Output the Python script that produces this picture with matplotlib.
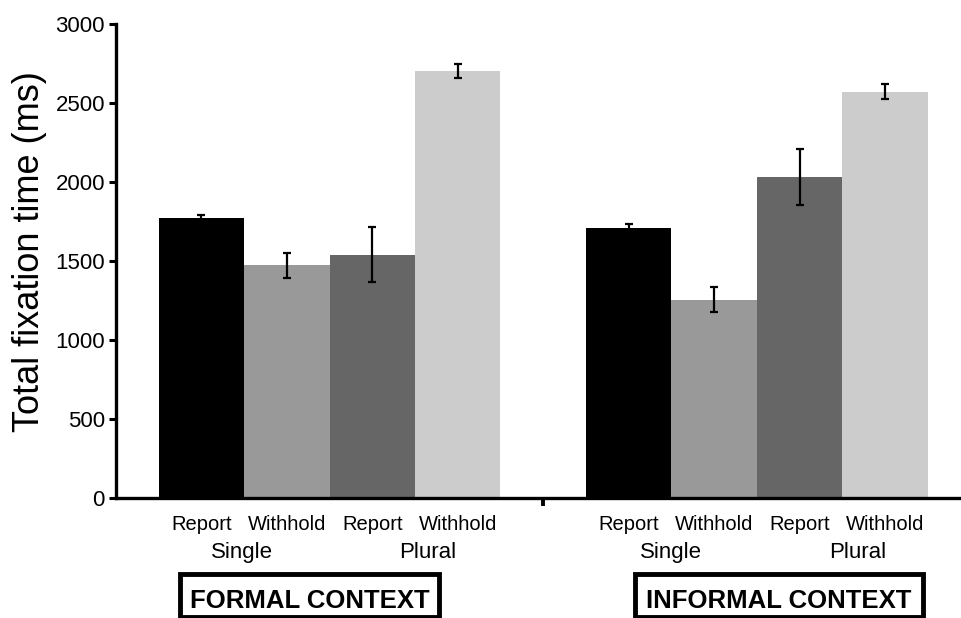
import matplotlib
matplotlib.use("Agg")
import matplotlib.pyplot as plt
import matplotlib.transforms as mtransforms
from matplotlib.patches import Rectangle

plt.rcParams['font.family'] = ['Liberation Sans', 'DejaVu Sans']

# data
conditions = ["Report", "Withhold", "Report", "Withhold"]
number_labels = ["Single", "Plural"]
contexts = ["FORMAL CONTEXT", "INFORMAL CONTEXT"]
formal_means = [1770, 1473, 1540, 2703]
formal_err = [22, 78, 173, 46]
informal_means = [1711, 1256, 2032, 2571]
informal_err = [22, 78, 175, 47]
bar_colors = ["#000000", "#999999", "#666666", "#cccccc"]

fig = plt.figure(figsize=(9.61, 6.18), dpi=100)
ax = fig.add_axes([0.1207, 0.1942, 0.8793, 0.767])

group_starts = [0, 5]
all_means = [formal_means, informal_means]
all_err = [formal_err, informal_err]

for g in range(2):
    xs = [group_starts[g] + i for i in range(4)]
    ax.bar(xs, all_means[g], width=1.0, color=bar_colors, edgecolor='none', zorder=2)
    ax.errorbar(xs, all_means[g], yerr=all_err[g], fmt='none', ecolor='black',
                elinewidth=1.6, capsize=3.2, capthick=1.6, zorder=3)

ax.set_xlim(-1.0, 8.89)
ax.set_ylim(0, 3000)
ax.set_yticks([0, 500, 1000, 1500, 2000, 2500, 3000])
ax.set_xticks([4])
ax.set_xticklabels([""])

for s in ['top', 'right']:
    ax.spines[s].set_visible(False)
for s in ['left', 'bottom']:
    ax.spines[s].set_linewidth(2.4)

ax.tick_params(axis='y', direction='out', length=5, width=2.2, labelsize=16, pad=3)
ax.tick_params(axis='x', direction='out', length=6, width=2.8)

ax.set_ylabel("Total fixation time (ms)", fontsize=26)
ax.yaxis.set_label_coords(-0.082, 0.52)

trans = mtransforms.blended_transform_factory(ax.transData, ax.transAxes)
number_pos = [[0.48, 2.65], [5.5, 7.68]]
box_pos = [1.27, 6.76]
box_edges = [[-0.246, 2.784], [5.076, 8.444]]
for g in range(2):
    for i, lab in enumerate(conditions):
        ax.text(group_starts[g] + i, -0.056, lab, transform=trans, ha='center', va='center',
                fontsize=14.5)
    for j, lab in enumerate(number_labels):
        ax.text(number_pos[g][j], -0.114, lab, transform=trans, ha='center', va='center',
                fontsize=16)
    ax.text(box_pos[g], -0.2314, contexts[g], transform=trans, ha='center', va='baseline',
            fontsize=18.5, fontweight='bold')
    x0, x1 = box_edges[g]
    ax.add_patch(Rectangle((x0, -0.251), x1 - x0, 0.091, transform=trans, fill=False,
                           edgecolor='black', linewidth=3.5, clip_on=False))

fig.savefig("out.png", dpi=100)
